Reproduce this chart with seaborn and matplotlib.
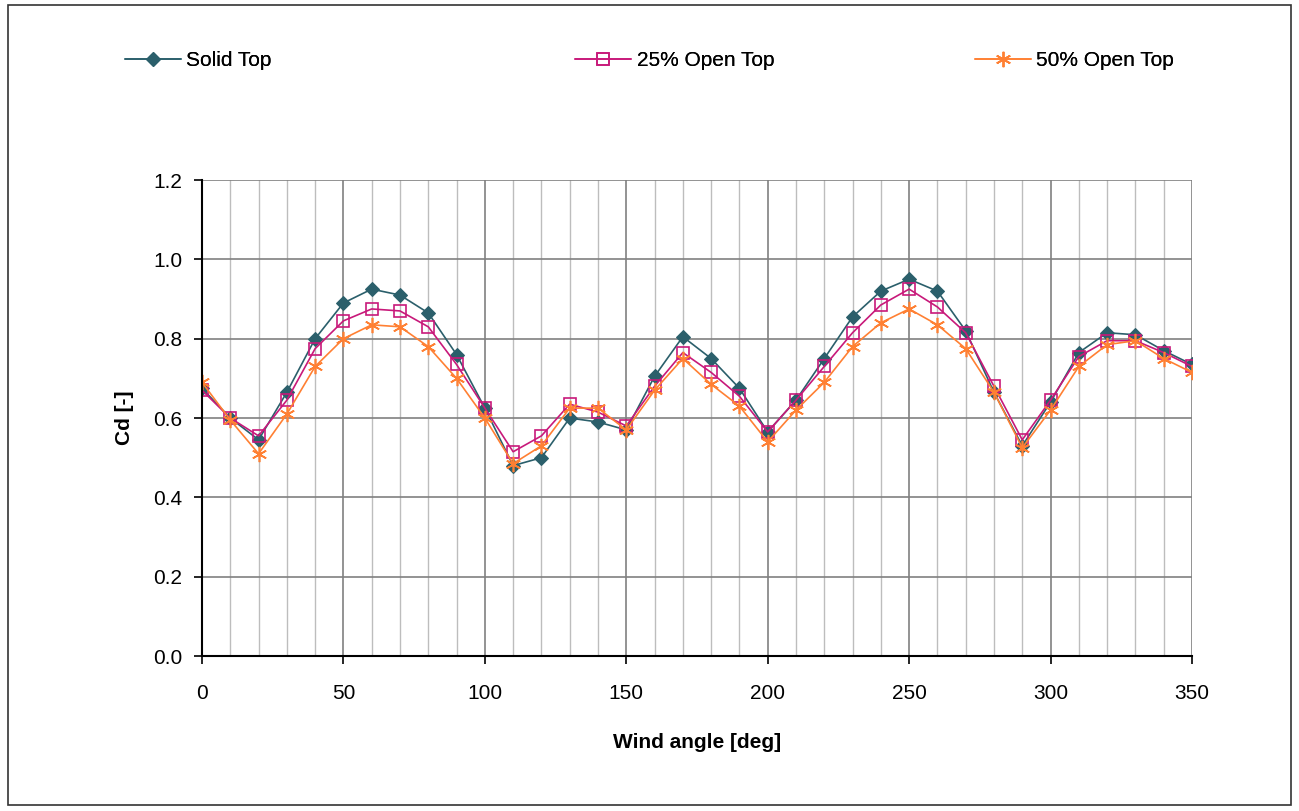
import matplotlib
matplotlib.use("Agg")
import matplotlib.pyplot as plt
import seaborn as sns
import pandas as pd
from matplotlib.patches import Rectangle

angles = list(range(0, 360, 10))
solid_top = [0.675, 0.60, 0.545, 0.665, 0.80, 0.89, 0.925, 0.91, 0.865, 0.76,
             0.625, 0.48, 0.50, 0.60, 0.59, 0.57, 0.705, 0.805, 0.75, 0.675,
             0.565, 0.645, 0.75, 0.855, 0.92, 0.95, 0.92, 0.82, 0.665, 0.53,
             0.64, 0.765, 0.815, 0.81, 0.77, 0.735]
open25_top = [0.67, 0.60, 0.555, 0.645, 0.775, 0.845, 0.875, 0.87, 0.83, 0.735,
              0.625, 0.515, 0.555, 0.635, 0.615, 0.58, 0.68, 0.765, 0.715, 0.655,
              0.565, 0.645, 0.73, 0.815, 0.885, 0.925, 0.88, 0.815, 0.68, 0.545,
              0.645, 0.755, 0.795, 0.795, 0.765, 0.73]
open50_top = [0.69, 0.595, 0.51, 0.61, 0.73, 0.80, 0.835, 0.83, 0.78, 0.70,
              0.60, 0.485, 0.53, 0.625, 0.625, 0.57, 0.67, 0.75, 0.685, 0.63,
              0.54, 0.62, 0.69, 0.78, 0.84, 0.875, 0.835, 0.775, 0.665, 0.525,
              0.62, 0.73, 0.785, 0.795, 0.75, 0.715]
series_names = ["Solid Top", "25% Open Top", "50% Open Top"]

df = pd.DataFrame({"angle": angles * 3,
                   "cd": solid_top + open25_top + open50_top,
                   "series": sum([[n] * len(angles) for n in series_names], [])})

sns.set_theme(style="white")
plt.rcParams['font.family'] = ['Liberation Sans', 'DejaVu Sans']
plt.rcParams['text.color'] = 'black'
plt.rcParams['axes.labelcolor'] = 'black'

fig = plt.figure(figsize=(12.99, 8.11), dpi=100)
ax = fig.add_axes([0.1555, 0.1911, 0.9176 - 0.1555, 0.778 - 0.1911])

colors = {"Solid Top": "#2b5f6b", "25% Open Top": "#c8197a", "50% Open Top": "#ff8033"}
styles = {"Solid Top": dict(marker="D", markersize=7, mfc="#2b5f6b", mec="#2b5f6b"),
          "25% Open Top": dict(marker="s", markersize=8, mfc="none", mec="#c8197a", mew=1.2),
          "50% Open Top": dict(marker=(6, 2, 0), markersize=11, mec="#ff8033", mew=1.2)}

for name in series_names:
    sub = df[df["series"] == name]
    sns.lineplot(data=sub, x="angle", y="cd", ax=ax, color=colors[name], lw=1.2,
                 label=name, **styles[name])

ax.set_xlim(0, 350)
ax.set_ylim(0, 1.2)
ax.set_xticks(range(0, 351, 50))
ax.set_xticks(range(0, 351, 10), minor=True)
ax.set_yticks([0, 0.2, 0.4, 0.6, 0.8, 1.0, 1.2])
ax.set_yticklabels([f"{v:.1f}" for v in [0, 0.2, 0.4, 0.6, 0.8, 1.0, 1.2]])
ax.grid(which="minor", axis="x", color="#bdbdbd", lw=1.0)
ax.grid(which="major", axis="x", color="#808080", lw=1.2)
ax.grid(which="major", axis="y", color="#808080", lw=1.2)
ax.set_axisbelow(True)
for s in ["top", "right"]:
    ax.spines[s].set_visible(False)
for s in ["left", "bottom"]:
    ax.spines[s].set_color("black")
    ax.spines[s].set_linewidth(1.5)
ax.tick_params(axis="both", which="major", direction="out", length=6, width=1.2,
               color="black", labelsize=15, labelcolor="black", bottom=True, left=True, pad=8)
ax.tick_params(axis="x", which="major", pad=14)
ax.tick_params(axis="x", which="minor", bottom=False)

ax.set_xlabel("Wind angle [deg]", fontsize=15, fontweight="bold", labelpad=22, color="black")
ax.set_ylabel("Cd [-]", fontsize=15, fontweight="bold", labelpad=14, color="black")

handles, labels = ax.get_legend_handles_labels()
ax.get_legend().remove()
leg_x = [0.0962, 0.4427, 0.7506]
for h, l, x in zip(handles, labels, leg_x):
    lg = fig.legend([h], [l], loc="center left", bbox_to_anchor=(x, 0.9255),
                    frameon=False, fontsize=15, handlelength=2.7, handletextpad=0.25,
                    borderpad=0, borderaxespad=0, labelcolor="black")
    fig.add_artist(lg)

fig.patches.append(Rectangle((0.006, 0.007), 0.988, 0.987, transform=fig.transFigure,
                             fill=False, edgecolor="#333333", lw=1.2))

fig.savefig("out.png", dpi=100, facecolor="white")
